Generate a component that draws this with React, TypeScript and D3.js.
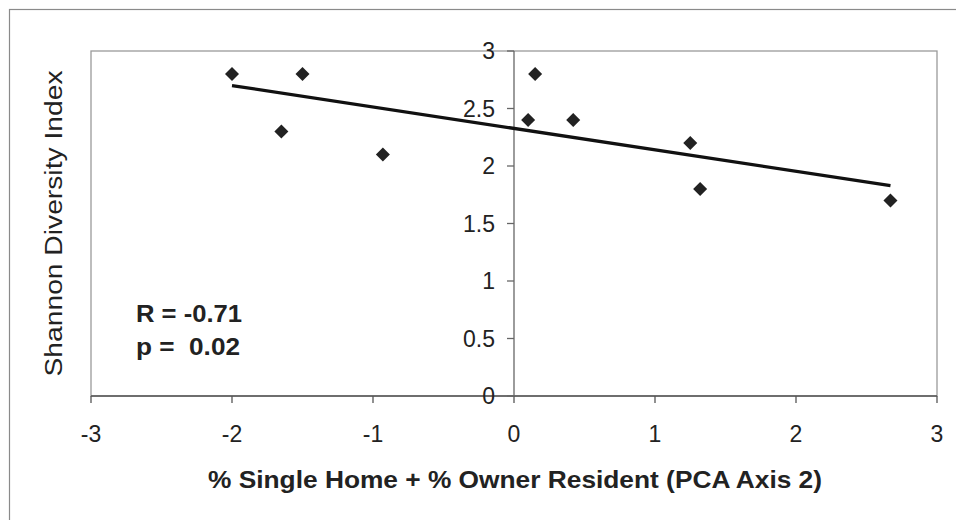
import React from "react";
import * as d3 from "d3";

const xValues = [-2.0, -1.65, -1.5, -0.93, 0.1, 0.15, 0.42, 1.25, 1.32, 2.67];
const yValues = [2.8, 2.3, 2.8, 2.1, 2.4, 2.8, 2.4, 2.2, 1.8, 1.7];
const xTicks = [-3, -2, -1, 0, 1, 2, 3];
const yTicks = [0, 0.5, 1, 1.5, 2, 2.5, 3];
const xTitle = "% Single Home + % Owner Resident (PCA Axis 2)";
const yTitle = "Shannon Diversity Index";
const statR = "R = -0.71";
const statP = "p =  0.02";

const W = 956;
const H = 520;
const FONT = "'Liberation Sans', Arial, sans-serif";

export default function App() {
  const x = d3.scaleLinear().domain([-3, 3]).range([91, 937]);
  const y = d3.scaleLinear().domain([0, 3]).range([396, 51]);

  const pts = xValues.map((v, i) => ({ x: v, y: yValues[i] }));
  const mx = d3.mean(xValues) as number;
  const my = d3.mean(yValues) as number;
  let sxy = 0;
  let sxx = 0;
  pts.forEach((p) => {
    sxy += (p.x - mx) * (p.y - my);
    sxx += (p.x - mx) * (p.x - mx);
  });
  const slope = sxy / sxx;
  const intercept = my - slope * mx;
  const x0 = d3.min(xValues) as number;
  const x1 = d3.max(xValues) as number;
  const line = d3
    .line<[number, number]>()
    .x((d) => x(d[0]))
    .y((d) => y(d[1]));
  const trend = line([
    [x0, intercept + slope * x0],
    [x1, intercept + slope * x1],
  ]);

  const diamond = d3.symbol().type(d3.symbolDiamond2).size(125)() as string;
  const axisX0 = x(0);
  const axisY0 = y(0);

  return (
    <svg
      width={W}
      height={H}
      style={{ position: "absolute", left: 0, top: 0, background: "#fff" }}
      fontFamily={FONT}
    >
      <rect x={0} y={0} width={W} height={H} fill="#fff" />
      {/* outer chart border */}
      <rect x={9.5} y={9.5} width={W + 10} height={H + 10} fill="none" stroke="#8a8a8a" strokeWidth={1.2} />
      {/* plot area border */}
      <rect
        x={x(-3)}
        y={y(3)}
        width={x(3) - x(-3)}
        height={y(0) - y(3)}
        fill="none"
        stroke="#9a9a9a"
        strokeWidth={1.3}
      />
      {/* x axis */}
      <line x1={x(-3)} x2={x(3)} y1={axisY0} y2={axisY0} stroke="#555" strokeWidth={1.5} />
      {xTicks.map((t) => (
        <g key={"xt" + t}>
          <line x1={x(t)} x2={x(t)} y1={axisY0} y2={axisY0 + 7} stroke="#555" strokeWidth={1.3} />
          <text x={x(t)} y={442} textAnchor="middle" fontSize={23} fill="#222">
            {t}
          </text>
        </g>
      ))}
      {/* y axis */}
      <line x1={axisX0} x2={axisX0} y1={y(3)} y2={y(0)} stroke="#666" strokeWidth={1.3} />
      {yTicks.map((t) => (
        <g key={"yt" + t}>
          <line x1={axisX0 - 7} x2={axisX0} y1={y(t)} y2={y(t)} stroke="#666" strokeWidth={1.3} />
          <text
            x={495}
            y={y(t)}
            textAnchor="end"
            dominantBaseline="central"
            fontSize={23}
            fill="#222"
          >
            {t}
          </text>
        </g>
      ))}
      {/* trend line */}
      <path d={trend || ""} fill="none" stroke="#111" strokeWidth={3.3} />
      {/* points */}
      {pts.map((p, i) => (
        <path key={"p" + i} d={diamond} transform={`translate(${x(p.x)},${y(p.y)})`} fill="#222" />
      ))}
      {/* stats */}
      <text x={136} y={322} fontSize={23} fontWeight="bold" fill="#222" textLength={106} lengthAdjust="spacingAndGlyphs">
        {statR}
      </text>
      <text
        x={136}
        y={355}
        fontSize={23}
        fontWeight="bold"
        fill="#222"
        style={{ whiteSpace: "pre" }}
        textLength={104}
        lengthAdjust="spacingAndGlyphs"
      >
        {statP}
      </text>
      {/* axis titles */}
      <text
        x={515}
        y={488}
        textAnchor="middle"
        fontSize={24}
        fontWeight="bold"
        fill="#222"
        textLength={614}
        lengthAdjust="spacingAndGlyphs"
      >
        {xTitle}
      </text>
      <text
        transform={`translate(62,${(y(0) + y(3)) / 2}) rotate(-90)`}
        textAnchor="middle"
        fontSize={23}
        fill="#222"
        textLength={306}
        lengthAdjust="spacingAndGlyphs"
      >
        {yTitle}
      </text>
    </svg>
  );
}
